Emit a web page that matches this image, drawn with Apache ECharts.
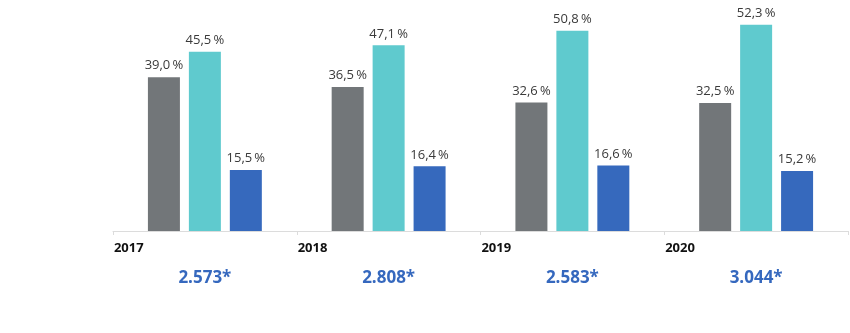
<!DOCTYPE html>
<html>
<head>
<meta charset="utf-8">
<script src="https://cdn.jsdelivr.net/npm/echarts@6/dist/echarts.min.js"></script>
<style>
  html, body { margin: 0; padding: 0; background: #fff; }
  #chart { width: 850px; height: 333px; }
</style>
</head>
<body>
<div id="chart"></div>
<script>
var years = ["2017", "2018", "2019", "2020"];
var totals = ["2.573*", "2.808*", "2.583*", "3.044*"];
var grayValues = [39.0, 36.5, 32.6, 32.5];
var tealValues = [45.5, 47.1, 50.8, 52.3];
var blueValues = [15.5, 16.4, 16.6, 15.2];

var dom = document.getElementById("chart");
var myChart = echarts.init(dom);

var pct = function (p) {
    return p.value.toFixed(1).replace(".", ",") + "\u2009%";
};

var barLabel = {
    show: true,
    position: "top",
    distance: 5,
    formatter: pct,
    color: "#3a3a3a",
    fontFamily: "Open Sans",
    fontSize: 13
};

var option = {
    animation: false,
    grid: { left: 113, right: 2, top: 0, bottom: 102 },
    xAxis: [
        {
            type: "category",
            data: years,
            axisLine: { lineStyle: { color: "#dcdcdc" } },
            axisTick: { show: true, length: 4, lineStyle: { color: "#dcdcdc" } },
            axisLabel: {
                interval: 0,
                margin: 11,
                formatter: "{a|{value}}",
                rich: {
                    a: {
                        width: 182,
                        align: "left",
                        fontFamily: "Open Sans",
                        fontWeight: "bold",
                        fontSize: 13,
                        color: "#111"
                    }
                }
            }
        },
        {
            type: "category",
            data: totals,
            position: "bottom",
            axisLine: { show: false },
            axisTick: { show: false },
            axisLabel: {
                interval: 0,
                margin: 39,
                fontFamily: "Open Sans",
                fontWeight: "bold",
                fontSize: 17,
                color: "#3568be"
            }
        }
    ],
    yAxis: {
        type: "value",
        min: 0,
        max: 58.6,
        show: false,
        splitLine: { show: false }
    },
    series: [
        {
            type: "bar",
            data: grayValues,
            barWidth: 32,
            barGap: "28%",
            itemStyle: { color: "#727679" },
            label: barLabel
        },
        {
            type: "bar",
            data: tealValues,
            barWidth: 32,
            barGap: "28%",
            itemStyle: { color: "#5fcace" },
            label: barLabel
        },
        {
            type: "bar",
            data: blueValues,
            barWidth: 32,
            barGap: "28%",
            itemStyle: { color: "#3669bd" },
            label: barLabel
        }
    ]
};
myChart.setOption(option);
</script>
</body>
</html>
